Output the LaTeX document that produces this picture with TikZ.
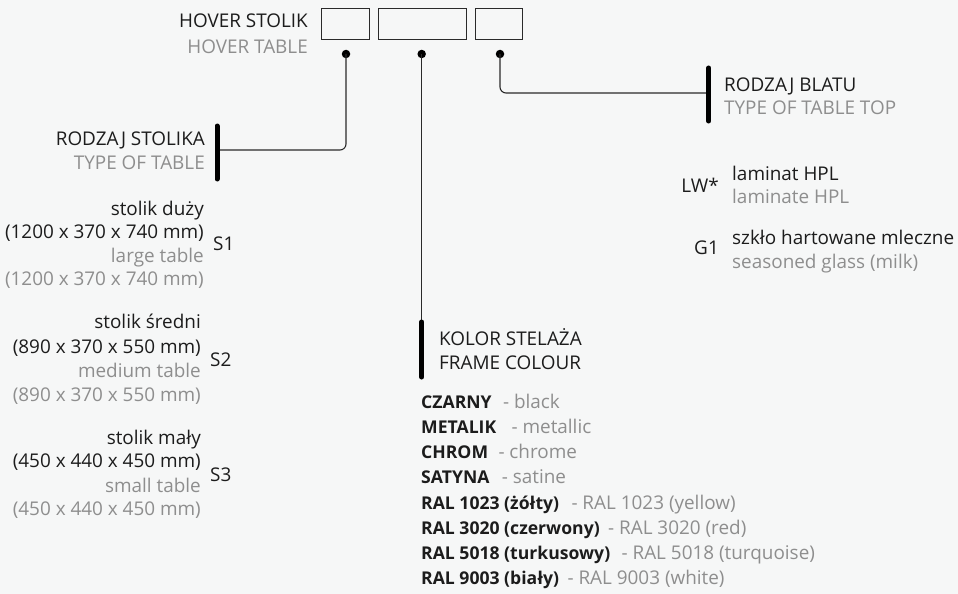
\documentclass[tikz,border=0pt]{standalone}
\usepackage{fontspec}
\setmainfont{Open Sans}
\definecolor{bg}{HTML}{F6F7F7}
\definecolor{dk}{HTML}{1C1C1C}
\definecolor{gr}{HTML}{8E8E8E}
\definecolor{ln}{HTML}{2A2A2A}
\begin{document}
\begin{tikzpicture}[x=1pt,y=-1pt,
  txt/.style={inner sep=0pt, font=\fontsize{18.9}{22}\selectfont},
  blk/.style={txt, text=dk},
  gry/.style={txt, text=gr},
  bld/.style={txt, text=dk, font=\fontsize{17.6}{21}\selectfont\bfseries},
  box/.style={draw=ln, line width=0.9pt, minimum height=31pt, inner sep=0pt},
  dot/.style={circle, fill=black, inner sep=0pt, minimum size=8.5pt},
  conn/.style={draw=ln, line width=1.1pt},
  bar/.style={draw=black, line width=5pt, line cap=round}]
\fill[bg] (0,0) rectangle (958,594);
\useasboundingbox (0,0) rectangle (958,594);

% header
\node[blk, anchor=base east] (h1) at (308,28) {HOVER STOLIK};
\node[gry, anchor=base east] (h2) at (308,53) {HOVER TABLE};
\node[box, minimum width=47.5pt] (bx1) at (345.5,23.7) {};
\node[box, minimum width=88.5pt] (bx2) at (422.5,23.7) {};
\node[box, minimum width=47pt] (bx3) at (499.2,23.7) {};
\node[dot] (d1) at (346,54) {};
\node[dot] (d2) at (421.7,54) {};
\node[dot] (d3) at (500,54) {};

% bars
\coordinate (b1) at (217,150);
\coordinate (b1t) at (217,126);
\coordinate (b1b) at (217,179);
\coordinate (b2t) at (421.7,322);
\coordinate (b2b) at (421.7,377);
\coordinate (b3) at (708.7,93);
\coordinate (b3t) at (708.7,68);
\coordinate (b3b) at (708.7,121);

\draw[conn, rounded corners=6pt] (d1.center) |- (b1);
\draw[conn] (d2.center) -- (b2t);
\draw[conn, rounded corners=6pt] (d3.center) |- (b3);
\draw[bar] (b1t) -- (b1b);
\draw[bar] (b2t) -- (b2b);
\draw[bar] (b3t) -- (b3b);

% type of table
\node[blk, anchor=base east] (t1) at (205,145) {RODZAJ STOLIKA};
\node[gry, anchor=base east] (t2) at (205,169) {TYPE OF TABLE};

\node[blk, anchor=base east] (s1a) at (204,215) {stolik duży};
\node[blk, anchor=base east] (s1b) at (204,238) {(1200 x 370 x 740 mm)};
\node[gry, anchor=base east] (s1c) at (204,262) {large table};
\node[gry, anchor=base east] (s1d) at (204,285) {(1200 x 370 x 740 mm)};
\node[blk, anchor=base west] (s1) at (213,250) {S1};

\node[blk, anchor=base east] (s2a) at (201,328) {stolik średni};
\node[blk, anchor=base east] (s2b) at (201,353) {(890 x 370 x 550 mm)};
\node[gry, anchor=base east] (s2c) at (201,377) {medium table};
\node[gry, anchor=base east] (s2d) at (201,401) {(890 x 370 x 550 mm)};
\node[blk, anchor=base west] (s2) at (210,366) {S2};

\node[blk, anchor=base east] (s3a) at (201,444) {stolik mały};
\node[blk, anchor=base east] (s3b) at (201,467) {(450 x 440 x 450 mm)};
\node[gry, anchor=base east] (s3c) at (201,492) {small table};
\node[gry, anchor=base east] (s3d) at (201,515) {(450 x 440 x 450 mm)};
\node[blk, anchor=base west] (s3) at (210,481) {S3};

% frame colour
\node[blk, anchor=base west] (k1) at (439,345) {KOLOR STELAŻA};
\node[blk, anchor=base west] (k2) at (439,369) {FRAME COLOUR};

\node[bld, anchor=base west] (c1) at (421,408.3) {CZARNY};
\node[gry, anchor=base west] at ([xshift=11pt]c1.base east) {- black};
\node[bld, anchor=base west] (c2) at (421,433.5) {METALIK};
\node[gry, anchor=base west] at ([xshift=15pt]c2.base east) {- metallic};
\node[bld, anchor=base west] (c3) at (421,458.7) {CHROM};
\node[gry, anchor=base west] at ([xshift=10pt]c3.base east) {- chrome};
\node[bld, anchor=base west] (c4) at (421,483.9) {SATYNA};
\node[gry, anchor=base west] at ([xshift=12pt]c4.base east) {- satine};
\node[bld, anchor=base west] (c5) at (421,509.1) {RAL 1023 (żółty)};
\node[gry, anchor=base west] at ([xshift=12pt]c5.base east) {- RAL 1023 (yellow)};
\node[bld, anchor=base west] (c6) at (421,534.3) {RAL 3020 (czerwony)};
\node[gry, anchor=base west] at ([xshift=8pt]c6.base east) {- RAL 3020 (red)};
\node[bld, anchor=base west] (c7) at (421,559.5) {RAL 5018 (turkusowy)};
\node[gry, anchor=base west] at ([xshift=11pt]c7.base east) {- RAL 5018 (turquoise)};
\node[bld, anchor=base west] (c8) at (421,584.7) {RAL 9003 (biały)};
\node[gry, anchor=base west] at ([xshift=8pt]c8.base east) {- RAL 9003 (white)};

% table top
\node[blk, anchor=base west] (r1) at (724,91) {RODZAJ BLATU};
\node[gry, anchor=base west] (r2) at (724,114) {TYPE OF TABLE TOP};

\node[blk, anchor=base east] (lw) at (719,192) {LW*};
\node[blk, anchor=base west] (lw1) at (732,180) {laminat HPL};
\node[gry, anchor=base west] (lw2) at (732,203) {laminate HPL};

\node[blk, anchor=base east] (g1) at (719,254) {G1};
\node[blk, anchor=base west] (g1a) at (732,244) {szkło hartowane mleczne};
\node[gry, anchor=base west] (g1b) at (732,268) {seasoned glass (milk)};
\end{tikzpicture}
\end{document}
